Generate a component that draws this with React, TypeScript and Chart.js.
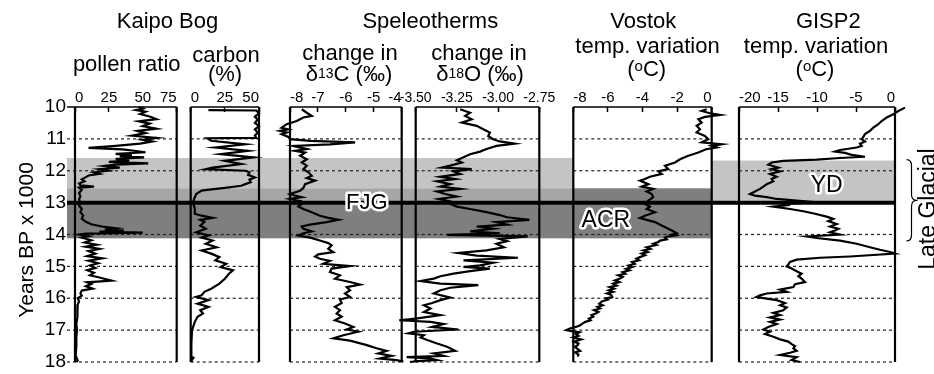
import React, { useEffect, useRef } from 'react';
import { Chart, registerables } from 'chart.js';

Chart.register(...registerables);

const FONT = "'Liberation Sans', Arial, Helvetica, sans-serif";

// ---------------- data: [years BP x 1000, value] ----------------
const pollenRatio: [number, number][] = [
  [10.0, 47], [10.05, 50], [10.1, 45], [10.15, 52], [10.22, 48], [10.3, 55], [10.38, 60], [10.45, 47],
  [10.52, 55], [10.6, 50], [10.68, 60], [10.75, 46], [10.82, 52], [10.9, 42], [10.97, 60], [11.03, 50],
  [11.08, 57], [11.15, 48], [11.22, 30], [11.28, 10], [11.33, 35], [11.38, 45], [11.42, 52], [11.47, 30],
  [11.52, 42], [11.55, 33], [11.58, 51], [11.63, 30], [11.68, 40], [11.72, 25], [11.77, 54], [11.81, 30],
  [11.85, 22], [11.9, 33], [11.95, 18], [12.0, 24], [12.05, 14], [12.1, 18], [12.15, 10], [12.2, 8],
  [12.27, 5], [12.33, 7], [12.4, 3], [12.46, 4], [12.5, 14], [12.53, 3], [12.6, 5], [12.7, 3],
  [12.8, 4], [12.9, 3], [13.0, 4], [13.1, 3], [13.2, 5], [13.3, 4], [13.4, 6], [13.5, 5],
  [13.6, 8], [13.68, 12], [13.75, 20], [13.8, 30], [13.84, 22], [13.88, 36], [13.91, 18], [13.94, 50],
  [13.97, 8], [14.0, 3], [14.05, 10], [14.1, 5], [14.18, 12], [14.25, 7], [14.32, 16], [14.38, 8],
  [14.45, 18], [14.52, 10], [14.6, 15], [14.68, 9], [14.75, 20], [14.82, 10], [14.9, 17], [14.97, 11],
  [15.05, 15], [15.12, 9], [15.2, 14], [15.28, 11], [15.35, 18], [15.45, 27], [15.5, 9], [15.55, 12],
  [15.62, 8], [15.7, 13], [15.76, 5], [15.85, 4], [15.92, 5], [16.0, 2], [16.1, 3], [16.2, 2],
  [16.4, 1.5], [16.6, 2], [16.8, 1], [17.0, 1.5], [17.2, 1], [17.5, 1], [17.8, 0.5], [17.95, 2], [18.0, 1],
];

const carbonPct: [number, number][] = [
  [10.1, 13], [10.11, 48], [10.2, 50], [10.3, 47], [10.4, 49], [10.5, 47], [10.6, 50], [10.7, 47],
  [10.8, 49], [10.9, 47], [10.97, 48], [10.98, 12], [11.06, 15], [11.17, 40], [11.27, 18], [11.375, 42],
  [11.48, 22], [11.58, 46], [11.69, 25], [11.79, 37], [11.9, 16], [11.95, 11], [12.0, 40], [12.05, 43],
  [12.13, 42], [12.21, 47], [12.28, 43], [12.36, 44], [12.42, 40], [12.47, 37], [12.54, 25], [12.6, 12],
  [12.625, 8], [12.73, 4], [12.83, 3], [12.95, 2], [13.04, 2], [13.2, 3], [13.35, 3], [13.41, 8],
  [13.48, 16], [13.54, 7], [13.61, 10], [13.72, 7], [13.82, 11], [13.93, 4], [14.03, 13], [14.1, 8],
  [14.19, 16], [14.29, 11], [14.4, 19], [14.5, 8], [14.6, 15], [14.71, 21], [14.81, 18], [14.92, 26],
  [15.02, 22], [15.125, 31], [15.23, 28], [15.39, 25], [15.54, 21], [15.7, 15], [15.8, 10], [15.91, 8],
  [15.96, 4], [16.06, 13], [16.17, 5], [16.27, 13], [16.375, 7], [16.48, 9], [16.58, 5], [16.74, 3],
  [17.0, 1], [17.4, 0.5], [17.83, 0.5], [17.87, 2], [17.92, 1], [18.0, 0.5],
];

const delta13C: [number, number][] = [
  [10.07, -7.58], [10.18, -7.4], [10.28, -7.22], [10.33, -7.52], [10.44, -7.76], [10.54, -8.12], [10.65, -8.3],
  [10.7, -8.06], [10.75, -8.36], [10.8, -8.12], [10.85, -8.3], [10.94, -8.06], [11.01, -8.0], [11.06, -7.28],
  [11.11, -5.67], [11.17, -6.57], [11.22, -7.88], [11.32, -7.4], [11.375, -7.82], [11.43, -7.46], [11.53, -7.64],
  [11.64, -7.4], [11.74, -7.58], [11.84, -7.4], [11.95, -7.52], [12.05, -7.34], [12.16, -7.22], [12.23, -7.4],
  [12.31, -7.1], [12.42, -7.46], [12.54, -7.52], [12.625, -7.64], [12.73, -8.0], [12.78, -7.82], [12.83, -7.58],
  [12.885, -8.0], [12.94, -7.7], [12.99, -7.94], [13.04, -7.58], [13.125, -7.7], [13.2, -7.52], [13.3, -7.22],
  [13.41, -6.93], [13.48, -6.63], [13.54, -6.27], [13.61, -6.69], [13.69, -7.28], [13.75, -7.58], [13.82, -7.52],
  [13.9, -7.22], [13.96, -7.52], [14.03, -7.7], [14.1, -7.28], [14.19, -6.93], [14.27, -6.63], [14.34, -6.51],
  [14.45, -6.63], [14.55, -6.45], [14.625, -6.99], [14.69, -7.1], [14.76, -6.93], [14.83, -6.57], [14.92, -6.81],
  [14.99, -5.85], [15.07, -6.51], [15.18, -6.57], [15.28, -6.21], [15.39, -6.39], [15.49, -5.85], [15.57, -5.49],
  [15.65, -5.97], [15.75, -5.85], [15.85, -6.03], [15.96, -5.85], [16.04, -6.21], [16.15, -6.15], [16.27, -6.39],
  [16.375, -6.21], [16.48, -6.33], [16.58, -6.15], [16.69, -6.39], [16.79, -6.03], [16.9, -5.73], [16.98, -5.97],
  [17.05, -5.55], [17.16, -6.09], [17.26, -6.45], [17.33, -5.85], [17.47, -5.25], [17.57, -4.9], [17.65, -4.54],
  [17.73, -4.84], [17.81, -4.36], [17.89, -4.78], [17.94, -4.18], [17.99, -3.94],
];

const delta18O: [number, number][] = [
  [10.07, -3.23], [10.18, -3.17], [10.28, -3.2], [10.385, -3.16], [10.49, -3.22], [10.59, -3.13], [10.7, -3.09],
  [10.8, -3.05], [10.91, -3.06], [11.01, -3.03], [11.08, -2.99], [11.15, -2.9], [11.22, -3.01], [11.32, -3.07],
  [11.4, -3.11], [11.48, -3.17], [11.58, -3.21], [11.67, -3.25], [11.74, -3.22], [11.84, -3.29], [11.9, -3.34],
  [11.95, -3.16], [12.02, -3.27], [12.1, -3.23], [12.19, -3.35], [12.26, -3.26], [12.33, -3.37], [12.42, -3.29],
  [12.5, -3.35], [12.57, -3.23], [12.65, -3.37], [12.73, -3.32], [12.81, -3.25], [12.885, -3.36], [12.96, -3.29],
  [13.04, -3.29], [13.125, -3.25], [13.2, -3.17], [13.3, -3.07], [13.39, -2.99], [13.46, -2.945], [13.54, -2.81],
  [13.61, -3.01], [13.69, -2.945], [13.75, -3.13], [13.82, -3.03], [13.9, -3.17], [13.96, -2.99], [14.01, -3.31],
  [14.06, -2.82], [14.14, -2.99], [14.21, -2.945], [14.29, -3.01], [14.4, -2.965], [14.5, -3.07], [14.58, -3.24],
  [14.66, -3.13], [14.73, -2.88], [14.81, -3.21], [14.885, -3.03], [14.97, -3.11], [15.02, -3.21], [15.07, -3.05],
  [15.15, -3.17], [15.23, -3.27], [15.31, -3.35], [15.385, -3.39], [15.46, -3.47], [15.54, -3.35], [15.59, -3.12],
  [15.67, -3.29], [15.75, -3.35], [15.85, -3.39], [15.98, -3.29], [16.06, -3.35], [16.15, -3.4], [16.22, -3.45],
  [16.32, -3.41], [16.43, -3.45], [16.53, -3.35], [16.64, -3.5], [16.69, -3.6], [16.74, -3.41], [16.81, -3.33],
  [16.9, -3.4], [16.98, -3.24], [17.05, -3.51], [17.1, -3.545], [17.16, -3.45], [17.23, -3.47], [17.31, -3.43],
  [17.42, -3.37], [17.52, -3.31], [17.65, -3.26], [17.73, -3.39], [17.81, -3.33], [17.85, -3.555], [17.89, -3.41],
  [17.94, -3.37], [17.97, -3.49], [18.0, -3.535],
];

const vostokTemp: [number, number][] = [
  [10.07, -0.29], [10.125, -0.58], [10.21, 0], [10.25, 0.48], [10.31, -0.39], [10.385, -0.77], [10.49, -0.58],
  [10.59, -0.87], [10.7, -0.68], [10.8, -0.87], [10.91, -0.39], [11.01, -0.2], [11.11, -0.58], [11.17, 0.57],
  [11.22, 0], [11.27, 0.29], [11.32, -0.29], [11.43, -0.77], [11.53, -1.35], [11.64, -1.83], [11.74, -2.12],
  [11.84, -2.7], [11.95, -2.51], [12.02, -3.09], [12.1, -2.89], [12.19, -3.57], [12.26, -3.86], [12.31, -4.15],
  [12.42, -3.66], [12.5, -4.05], [12.57, -3.38], [12.65, -3.76], [12.73, -3.47], [12.83, -3.38], [12.94, -3.66],
  [13.04, -3.86], [13.125, -3.57], [13.2, -3.76], [13.3, -3.28], [13.41, -3.86], [13.48, -4.15], [13.54, -3.76],
  [13.61, -3.28], [13.72, -2.89], [13.82, -2.51], [13.9, -2.22], [13.96, -2.03], [14.0, -2.3], [14.03, -2.1],
  [14.07, -2.6], [14.1, -2.7], [14.15, -2.6], [14.19, -2.99], [14.24, -3.1], [14.29, -3.38], [14.33, -3.2],
  [14.4, -3.76], [14.45, -3.55], [14.5, -3.95], [14.55, -3.7], [14.6, -4.05], [14.65, -3.85], [14.71, -4.15],
  [14.76, -4.35], [14.81, -4.2], [14.86, -4.6], [14.92, -4.45], [14.97, -4.8], [15.02, -4.6], [15.08, -4.95],
  [15.125, -4.75], [15.18, -5.15], [15.23, -5.0], [15.28, -5.4], [15.33, -5.15], [15.38, -5.3], [15.44, -5.6],
  [15.49, -5.35], [15.54, -5.7], [15.6, -5.5], [15.65, -5.9], [15.7, -5.65], [15.75, -5.95], [15.8, -5.7],
  [15.85, -6.05], [15.9, -5.8], [15.96, -5.75], [16.0, -6.1], [16.04, -6.0], [16.1, -6.35], [16.17, -6.5],
  [16.22, -6.3], [16.27, -6.6], [16.32, -6.45], [16.375, -6.8], [16.43, -6.55], [16.48, -6.7], [16.53, -6.95],
  [16.58, -6.85], [16.64, -7.1], [16.69, -7.0], [16.74, -7.3], [16.79, -7.45], [16.85, -7.6], [16.9, -7.85],
  [16.95, -8.2], [17.0, -8.4], [17.03, -8.1], [17.07, -7.65], [17.12, -7.85], [17.18, -7.7], [17.23, -8.0],
  [17.29, -7.55], [17.36, -7.95], [17.42, -7.7], [17.47, -7.75], [17.52, -7.9], [17.57, -7.8], [17.65, -7.6],
  [17.7, -7.9], [17.77, -7.7], [17.83, -7.75],
];

const gisp2Temp: [number, number][] = [
  [10.02, 1.28], [10.125, 0.43], [10.23, -0.21], [10.33, -1.07], [10.44, -1.71], [10.54, -2.14], [10.65, -2.78],
  [10.75, -3.21], [10.85, -3.85], [10.94, -4.06], [11.01, -4.27], [11.08, -3.85], [11.15, -4.49], [11.22, -4.27],
  [11.27, -4.91], [11.35, -7.05], [11.4, -7.69], [11.44, -6.41], [11.5, -5.56], [11.56, -3.85], [11.6, -7.05],
  [11.65, -10.04], [11.69, -14.32], [11.74, -15.81], [11.81, -16.24], [11.9, -14.96], [11.95, -15.81], [12.02, -14.74],
  [12.1, -16.03], [12.19, -15.17], [12.26, -15.81], [12.33, -15.6], [12.42, -16.45], [12.5, -16.88], [12.57, -17.31],
  [12.65, -17.95], [12.73, -18.59], [12.78, -17.95], [12.83, -16.45], [12.885, -15.17], [12.94, -12.61], [12.99, -10.04],
  [13.04, -14.74], [13.07, -13.46], [13.125, -15.6], [13.2, -13.46], [13.27, -11.75], [13.35, -10.26], [13.44, -8.76],
  [13.51, -7.91], [13.58, -8.55], [13.67, -7.48], [13.75, -8.33], [13.82, -7.26], [13.875, -7.69], [13.93, -8.33],
  [14.0, -7.05], [14.06, -11.32], [14.11, -10.04], [14.19, -7.05], [14.29, -4.91], [14.4, -3.21], [14.48, -1.92],
  [14.55, -0.64], [14.6, 0], [14.69, -5.77], [14.73, -9.62], [14.79, -12.61], [14.86, -13.46], [14.94, -13.68],
  [15.0, -13.89], [15.07, -13.25], [15.15, -12.61], [15.23, -11.97], [15.31, -12.39], [15.385, -11.97], [15.49, -11.54],
  [15.56, -12.82], [15.65, -13.03], [15.73, -14.74], [15.8, -13.89], [15.85, -16.45], [15.91, -17.31], [15.96, -17.74],
  [16.01, -16.45], [16.06, -15.17], [16.15, -14.1], [16.22, -14.74], [16.29, -13.89], [16.375, -14.32], [16.46, -15.6],
  [16.53, -14.74], [16.6, -16.03], [16.67, -14.74], [16.74, -16.03], [16.81, -15.17], [16.9, -16.24], [16.98, -16.88],
  [17.05, -16.03], [17.125, -16.67], [17.21, -15.6], [17.29, -14.74], [17.36, -13.68], [17.44, -13.25], [17.5, -12.82],
  [17.57, -13.03], [17.65, -12.61], [17.71, -13.46], [17.78, -14.74], [17.85, -12.61], [17.94, -13.25], [18.0, -12.18],
];

// ---------------- ticks / labels ----------------
const yearTicks = [10, 11, 12, 13, 14, 15, 16, 17, 18];
const gridYears = [11, 12, 13, 14, 15, 16, 17, 18];
const pollenTicks = [0, 25, 50, 75];
const pollenTickLabels = ['0', '25', '50', '75'];
const carbonTicks = [0, 25, 50];
const carbonTickLabels = ['0', '25', '50'];
const d13Ticks = [-8, -7, -6, -5, -4];
const d13TickLabels = ['-8', '-7', '-6', '-5', '-4'];
const d18Ticks = [-3.5, -3.25, -3.0, -2.75];
const d18TickLabels = ['-3.50', '-3.25', '-3.00', '-2.75'];
const vostokTicks = [-8, -6, -4, -2, 0];
const vostokTickLabels = ['-8', '-6', '-4', '-2', '0'];
const gispTicks = [-20, -15, -10, -5, 0];
const gispTickLabels = ['-20', '-15', '-10', '-5', '0'];

// periods (years BP x 1000)
const ydLeftYears = [11.6, 12.55];
const overlapYears = [12.55, 13.0];
const acrYears = [13.0, 14.12];
const acrVostokYears = [12.55, 14.12];
const ydGispYears = [11.68, 12.95];
const boundaryYear = 13.0;
const braceYears = [11.65, 12.93, 14.2];

const annotations = [
  { text: 'FJG', axis: 'xC13', value: -5.25, year: 13.02, size: 22 },
  { text: 'ACR', axis: 'xVostok', value: -6.12, year: 13.56, size: 23 },
  { text: 'YD', axis: 'xGisp', value: -8.76, year: 12.47, size: 23 },
];

// ---------------- layout (pixels) ----------------
const PANEL_X: Record<string, [number, number]> = {
  xPollen: [75, 176.7],
  xCarbon: [190.7, 259],
  xC13: [290, 401.7],
  xO18: [415.7, 539.3],
  xVostok: [573.3, 711.7],
  xGisp: [739, 895],
};
const LEFT_EDGE = 67;
const LIGHT = '#c4c4c4';
const MEDIUM = '#a6a6a6';
const DARK = '#7f7f7f';

type Part = { t: string; size: number; dy?: number };
const TITLES: { parts: Part[]; cx: number; y: number }[] = [
  { parts: [{ t: 'Kaipo Bog', size: 22 }], cx: 167.5, y: 28 },
  { parts: [{ t: 'Speleotherms', size: 22 }], cx: 430.3, y: 28 },
  { parts: [{ t: 'Vostok', size: 22 }], cx: 643.3, y: 28 },
  { parts: [{ t: 'GISP2', size: 22 }], cx: 828.3, y: 28 },
  { parts: [{ t: 'pollen ratio', size: 22 }], cx: 126.7, y: 70.5 },
  { parts: [{ t: 'carbon', size: 22 }], cx: 226, y: 62 },
  { parts: [{ t: '(%)', size: 22 }], cx: 225, y: 81 },
  { parts: [{ t: 'change in', size: 22 }], cx: 350, y: 60 },
  { parts: [{ t: 'δ', size: 22 }, { t: '13', size: 14, dy: -3 }, { t: 'C (‰)', size: 22 }], cx: 349, y: 81 },
  { parts: [{ t: 'change in', size: 22 }], cx: 479, y: 60 },
  { parts: [{ t: 'δ', size: 22 }, { t: '18', size: 14, dy: -3 }, { t: 'O (‰)', size: 22 }], cx: 480, y: 81 },
  { parts: [{ t: 'temp. variation', size: 22 }], cx: 647.5, y: 53 },
  { parts: [{ t: '(', size: 22 }, { t: 'o', size: 15, dy: -5 }, { t: 'C)', size: 22 }], cx: 646.7, y: 76 },
  { parts: [{ t: 'temp. variation', size: 22 }], cx: 816, y: 53 },
  { parts: [{ t: '(', size: 22 }, { t: 'o', size: 15, dy: -5 }, { t: 'C)', size: 22 }], cx: 815, y: 76 },
];

function drawParts(ctx: CanvasRenderingContext2D, parts: Part[], cx: number, y: number) {
  let w = 0;
  for (const p of parts) {
    ctx.font = `${p.size}px ${FONT}`;
    w += ctx.measureText(p.t).width;
  }
  let x = cx - w / 2;
  ctx.textAlign = 'left';
  ctx.textBaseline = 'alphabetic';
  ctx.fillStyle = '#000';
  for (const p of parts) {
    ctx.font = `${p.size}px ${FONT}`;
    ctx.fillText(p.t, x, y + (p.dy || 0));
    x += ctx.measureText(p.t).width;
  }
}

const decorPlugin = {
  id: 'paleoDecor',
  afterLayout(chart: any) {
    const top = chart.chartArea.top;
    for (const id of Object.keys(PANEL_X)) {
      const [l, r] = PANEL_X[id];
      const s = chart.scales[id];
      s.left = l;
      s.right = r;
      s.width = r - l;
      s.top = top - 30;
      s.bottom = top;
      s.height = 30;
      s.configure();
    }
  },
  beforeDraw(chart: any) {
    const ctx: CanvasRenderingContext2D = chart.ctx;
    const y = chart.scales.y;
    const Y = (v: number) => y.getPixelForValue(v);
    ctx.save();
    ctx.fillStyle = '#fff';
    ctx.fillRect(0, 0, chart.width, chart.height);
    const vl = PANEL_X.xVostok[0];
    const vr = PANEL_X.xVostok[1];
    const gr = PANEL_X.xGisp[1];
    const rect = (a: number, b: number, x0: number, x1: number, c: string) => {
      ctx.fillStyle = c;
      ctx.fillRect(x0, Y(a), x1 - x0, Y(b) - Y(a));
    };
    rect(ydLeftYears[0], ydLeftYears[1], LEFT_EDGE, vl, LIGHT);
    rect(overlapYears[0], overlapYears[1], LEFT_EDGE, vl, MEDIUM);
    rect(acrYears[0], acrYears[1], LEFT_EDGE, vl, DARK);
    rect(acrVostokYears[0], acrVostokYears[1], vl, vr, DARK);
    rect(ydGispYears[0], ydGispYears[1], vr, gr, LIGHT);

    // dashed year lines
    ctx.strokeStyle = '#222';
    ctx.lineWidth = 1.2;
    ctx.setLineDash([3, 3]);
    Object.keys(PANEL_X).forEach((id, i) => {
      const [l, r] = PANEL_X[id];
      for (const g of gridYears) {
        ctx.beginPath();
        ctx.moveTo(i === 0 ? LEFT_EDGE : l, Y(g));
        ctx.lineTo(r, Y(g));
        ctx.stroke();
      }
    });
    ctx.setLineDash([]);
    // frames
    ctx.strokeStyle = '#000';
    ctx.lineWidth = 1.5;
    ctx.beginPath();
    ctx.moveTo(LEFT_EDGE, Y(yearTicks[0]));
    ctx.lineTo(PANEL_X.xPollen[0], Y(yearTicks[0]));
    ctx.stroke();
    for (const id of Object.keys(PANEL_X)) {
      const [l, r] = PANEL_X[id];
      ctx.lineWidth = 1.5;
      ctx.beginPath();
      ctx.moveTo(l, Y(yearTicks[0]));
      ctx.lineTo(r, Y(yearTicks[0]));
      ctx.stroke();
      ctx.lineWidth = 2.2;
      ctx.beginPath();
      ctx.moveTo(l, Y(yearTicks[0]));
      ctx.lineTo(l, Y(yearTicks[yearTicks.length - 1]));
      ctx.moveTo(r, Y(yearTicks[0]));
      ctx.lineTo(r, Y(yearTicks[yearTicks.length - 1]));
      ctx.stroke();
    }
    ctx.restore();
  },
  afterDatasetsDraw(chart: any) {
    const ctx: CanvasRenderingContext2D = chart.ctx;
    const y = chart.scales.y;
    const Y = (v: number) => y.getPixelForValue(v);
    ctx.save();
    // boundary line
    ctx.strokeStyle = '#000';
    ctx.lineWidth = 4;
    ctx.beginPath();
    ctx.moveTo(LEFT_EDGE, Y(boundaryYear));
    ctx.lineTo(PANEL_X.xGisp[1], Y(boundaryYear));
    ctx.stroke();

    // halo labels
    for (const a of annotations) {
      const x = chart.scales[a.axis].getPixelForValue(a.value);
      const yy = Y(a.year);
      ctx.font = `${a.size}px ${FONT}`;
      ctx.textAlign = 'center';
      ctx.textBaseline = 'middle';
      ctx.lineJoin = 'round';
      ctx.lineWidth = 5;
      ctx.strokeStyle = '#fff';
      ctx.strokeText(a.text, x, yy);
      ctx.fillStyle = '#000';
      ctx.fillText(a.text, x, yy);
    }

    // brace
    const [b0, bm, b1] = braceYears.map(Y);
    const xL = 906.5, xC = 911.5, xR = 917;
    ctx.lineWidth = 1.2;
    ctx.strokeStyle = '#000';
    ctx.beginPath();
    ctx.moveTo(xL, b0);
    ctx.quadraticCurveTo(xC, b0, xC, b0 + 6);
    ctx.lineTo(xC, bm - 6);
    ctx.quadraticCurveTo(xC, bm, xR, bm);
    ctx.quadraticCurveTo(xC, bm, xC, bm + 6);
    ctx.lineTo(xC, b1 - 6);
    ctx.quadraticCurveTo(xC, b1, xL, b1);
    ctx.stroke();

    // rotated texts
    ctx.fillStyle = '#000';
    ctx.textAlign = 'center';
    ctx.textBaseline = 'alphabetic';
    ctx.save();
    ctx.translate(934.5, 209);
    ctx.rotate(-Math.PI / 2);
    ctx.font = `23px ${FONT}`;
    ctx.fillText('Late Glacial', 0, 0);
    ctx.restore();
    ctx.save();
    ctx.translate(33.3, 240);
    ctx.rotate(-Math.PI / 2);
    ctx.font = `21px ${FONT}`;
    ctx.fillText('Years BP x 1000', 0, 0);
    ctx.restore();

    for (const t of TITLES) drawParts(ctx, t.parts, t.cx, t.y);
    ctx.restore();
  },
};

function xAxis(min: number, max: number, ticks: number[], labels: string[], align: string, size: number) {
  return {
    type: 'linear',
    position: 'top',
    min,
    max,
    afterBuildTicks: (s: any) => {
      s.ticks = ticks.map((v) => ({ value: v }));
    },
    afterFit: (s: any) => {
      s.height = 0;
      s.paddingLeft = 0;
      s.paddingRight = 0;
    },
    ticks: {
      autoSkip: false,
      maxRotation: 0,
      minRotation: 0,
      padding: 5,
      align,
      color: '#000',
      font: { size, family: FONT },
      callback: (_v: any, i: number) => labels[i],
    },
    grid: {
      display: true,
      drawOnChartArea: false,
      drawTicks: true,
      tickLength: -5,
      tickColor: '#000',
      tickWidth: 1.5,
    },
    border: { display: false },
  };
}

const series: { id: string; data: [number, number][] }[] = [
  { id: 'xPollen', data: pollenRatio },
  { id: 'xCarbon', data: carbonPct },
  { id: 'xC13', data: delta13C },
  { id: 'xO18', data: delta18O },
  { id: 'xVostok', data: vostokTemp },
  { id: 'xGisp', data: gisp2Temp },
];

export default function App() {
  const ref = useRef<HTMLCanvasElement>(null);
  useEffect(() => {
    const chart = new Chart(ref.current as HTMLCanvasElement, {
      type: 'line',
      data: {
        datasets: series.map((s) => ({
          data: s.data.map(([yr, v]) => ({ x: v, y: yr })),
          xAxisID: s.id,
          yAxisID: 'y',
          borderColor: '#000',
          borderWidth: 2.2,
          pointRadius: 0,
          tension: 0,
          clip: false,
          fill: false,
        })),
      } as any,
      options: {
        animation: false,
        responsive: false,
        maintainAspectRatio: false,
        devicePixelRatio: 1,
        indexAxis: 'y',
        events: [],
        layout: { padding: { left: 0, top: 107, right: 39, bottom: 12 } },
        plugins: { legend: { display: false }, tooltip: { enabled: false }, title: { display: false } },
        scales: {
          y: {
            type: 'linear',
            position: 'left',
            reverse: true,
            min: 10,
            max: 18,
            afterBuildTicks: (s: any) => {
              s.ticks = yearTicks.map((v) => ({ value: v }));
            },
            afterFit: (s: any) => {
              s.width = 75;
              s.paddingTop = 0;
              s.paddingBottom = 0;
            },
            ticks: {
              padding: 9,
              color: '#000',
              font: { size: 19, family: FONT },
              callback: (v: any) => String(v),
            },
            grid: { display: false, drawTicks: false },
            border: { display: false },
          },
          xPollen: xAxis(0, 75, pollenTicks, pollenTickLabels, 'inner', 15),
          xCarbon: xAxis(0, 50, carbonTicks, carbonTickLabels, 'inner', 15),
          xC13: xAxis(-8, -4, d13Ticks, d13TickLabels, 'inner', 15),
          xO18: xAxis(-3.5, -2.75, d18Ticks, d18TickLabels, 'center', 14),
          xVostok: xAxis(-8, 0, vostokTicks, vostokTickLabels, 'inner', 15),
          xGisp: xAxis(-20, 0, gispTicks, gispTickLabels, 'inner', 15),
        } as any,
      },
      plugins: [decorPlugin],
    } as any);
    return () => chart.destroy();
  }, []);
  return (
    <div style={{ position: 'absolute', left: 0, top: 0, width: 934, height: 374, background: '#fff', overflow: 'hidden' }}>
      <canvas ref={ref} width={934} height={374} style={{ display: 'block' }} />
    </div>
  );
}
